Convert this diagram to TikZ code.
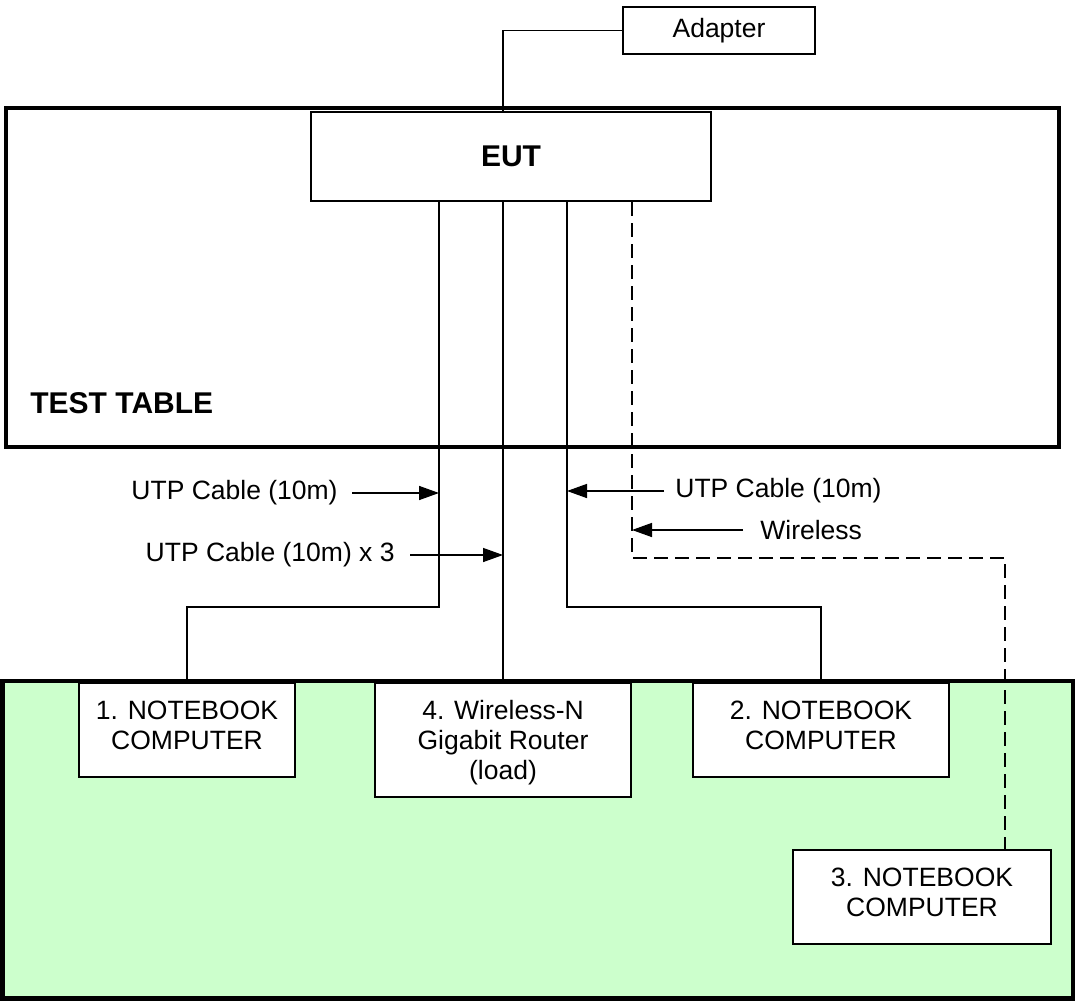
\documentclass[tikz,border=0pt]{standalone}
\usepackage{fontspec}
\setmainfont{Liberation Sans}
\usetikzlibrary{arrows.meta, positioning}
\definecolor{BenchGreen}{RGB}{204, 255, 204}
\tikzset{
  unit/.style={draw, fill=white, line width=1pt, align=center, inner sep=0pt, font=\fontsize{13.25}{15}\selectfont},
  notebook/.style={unit, minimum height=47pt, text depth=5pt},
  title/.style={inner sep=0pt, font=\bfseries\fontsize{15}{18}\selectfont},
  tag/.style={inner sep=0pt, font=\fontsize{13.25}{15}\selectfont},
  cable/.style={line width=0.75pt},
  radio/.style={line width=0.75pt, dash pattern=on 7pt off 3.5pt},
  pointer/.style={line width=0.75pt, -{Triangle[length=10pt, width=7pt]}},
}

\begin{document}
\begin{tikzpicture}[x=0.5pt, y=-0.5pt]
\useasboundingbox (0,0) rectangle (1076,1001);
% bench and test table
\draw[fill=BenchGreen, line width=2.25pt] (2.5,681) rectangle (1073,998.5);
\draw[line width=2.25pt] (6,108) rectangle (1059,447);
\node[title, anchor=west] (tabletitle) at (30,403) {TEST TABLE};

% equipment
\node[unit, title, draw, fill=white, line width=1pt, minimum width=200pt, minimum height=44.5pt] (eut) at (511,156.5) {EUT};
\node[unit, minimum width=96pt, minimum height=23.5pt] (adapter) at (719,30.5) {Adapter};
\node[notebook, minimum width=108pt] (nb1) at (187,730) {1. NOTEBOOK\\COMPUTER};
\node[unit, minimum width=128pt, minimum height=57pt, text depth=0pt] (router) at (503,740) {4. Wireless-N\\Gigabit Router\\(load)};
\node[notebook, minimum width=128pt] (nb2) at (821,730) {2. NOTEBOOK\\COMPUTER};
\node[notebook, minimum width=129pt] (nb3) at (922,897) {3. NOTEBOOK\\COMPUTER};

% cable bends
\coordinate (pwr) at (503,112);
\coordinate (bend1) at (439,607);
\coordinate (bend2) at (567,607);
\coordinate (air1) at (632,558);
\coordinate (air2) at (1005,558);

\draw[cable] (adapter.west) -| (pwr);
\draw[cable] (nb1.north) |- (bend1) -- (bend1 |- eut.south);
\draw[cable] (router.north) -- (router.north |- eut.south);
\draw[cable] (nb2.north) |- (bend2) -- (bend2 |- eut.south);
\draw[radio] (air1 |- eut.south) -- (air1) -- (air2) -- (air2 |- nb3.north);

% labels
\node[tag, anchor=east] (utp1) at (338,493) {UTP Cable (10m)};
\draw[pointer] ([xshift=7pt]utp1.east) -- (utp1.east -| bend1);
\node[tag, anchor=east] (utp3x) at (395,555) {UTP Cable (10m) x 3};
\draw[pointer] ([xshift=7.5pt]utp3x.east) -- (utp3x.east -| router.north);
\node[tag, anchor=west] (utp2) at (675,491) {UTP Cable (10m)};
\draw[pointer] ([xshift=-5.5pt]utp2.west) -- (utp2.west -| bend2);
\node[tag, anchor=west] (air) at (760,530) {Wireless};
\draw[pointer] ([xshift=-8.5pt]air.west) -- (air.west -| air1);
\end{tikzpicture}
\end{document}
